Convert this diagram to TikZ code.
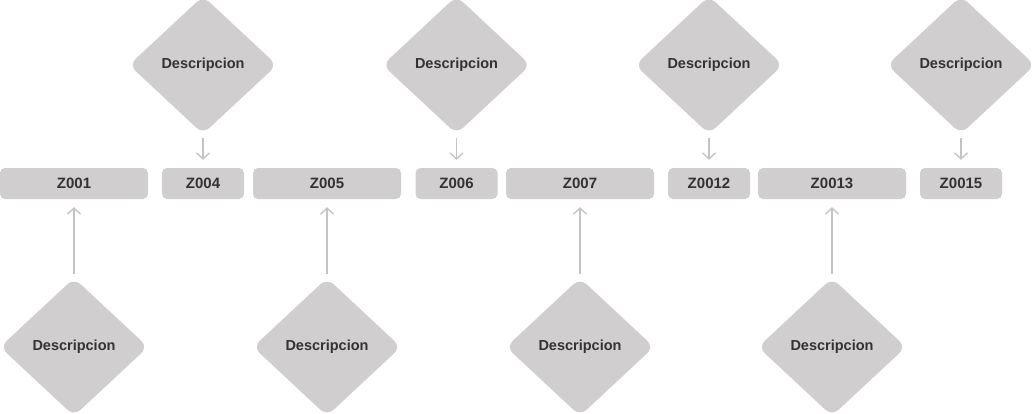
\documentclass[tikz,border=0pt]{standalone}
\usepackage{fontspec}
\setmainfont{Liberation Sans}
\usetikzlibrary{shapes.geometric,arrows.meta}
\definecolor{boxgray}{HTML}{D0CECF}
\definecolor{txtgray}{HTML}{333333}
\definecolor{arrgray}{HTML}{C4C4C4}
\tikzset{
  zbox/.style={rectangle, rounded corners=5pt, fill=boxgray, minimum height=31pt, inner sep=0pt,
    font=\fontsize{15}{17}\selectfont\bfseries, text=txtgray},
  wide/.style={zbox, minimum width=148pt},
  narrow/.style={zbox, minimum width=82pt},
  desc/.style={diamond, fill=boxgray, rounded corners=9pt, minimum width=148pt, minimum height=138pt,
    inner sep=0pt, font=\fontsize{14.5}{16}\selectfont\bfseries, text=txtgray},
  arr/.style={draw=arrgray, line width=1.4pt, -{Straight Barb[length=6pt,width=13pt,line width=1.4pt]},
    shorten <=4pt, shorten >=8pt}
}
\begin{document}
\begin{tikzpicture}[x=1pt,y=-1pt]
\useasboundingbox (0,0) rectangle (1032,413);
% boxes
\node[wide]   (b1) at (74,183.5)  {Z001};
\node[narrow] (b2) at (203,183.5) {Z004};
\node[wide]   (b3) at (327,183.5) {Z005};
\node[narrow] (b4) at (456.5,183.5) {Z006};
\node[wide]   (b5) at (580,183.5) {Z007};
\node[narrow] (b6) at (709,183.5) {Z0012};
\node[wide]   (b7) at (832,183.5) {Z0013};
\node[narrow] (b8) at (961,183.5) {Z0015};
% top diamonds
\node[desc] (t2) at (203,65) {Descripcion};
\node[desc] (t4) at (456.5,65) {Descripcion};
\node[desc] (t6) at (709,65) {Descripcion};
\node[desc] (t8) at (961,65) {Descripcion};
% bottom diamonds
\node[desc] (u1) at (74,347) {Descripcion};
\node[desc] (u3) at (327,347) {Descripcion};
\node[desc] (u5) at (580,347) {Descripcion};
\node[desc] (u7) at (832,347) {Descripcion};
% arrows
\draw[arr] (t2) -- (b2);
\draw[arr] (t4) -- (b4);
\draw[arr] (t6) -- (b6);
\draw[arr] (t8) -- (b8);
\draw[arr] (u1) -- (b1);
\draw[arr] (u3) -- (b3);
\draw[arr] (u5) -- (b5);
\draw[arr] (u7) -- (b7);
\end{tikzpicture}
\end{document}
